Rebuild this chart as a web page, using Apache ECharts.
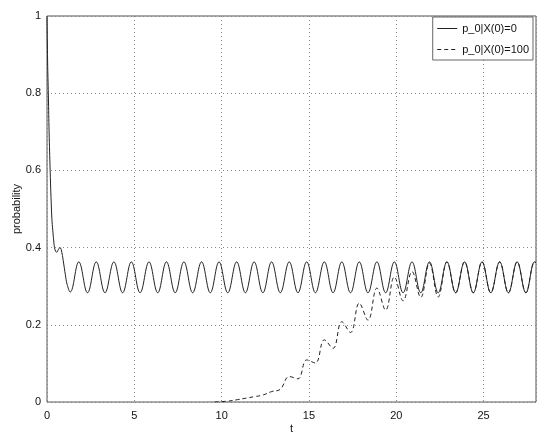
<!DOCTYPE html>
<html>
<head>
<meta charset="utf-8">
<script src="https://cdn.jsdelivr.net/npm/echarts@6/dist/echarts.min.js"></script>
<style>
html,body{margin:0;padding:0;background:#fff;}
#chart{width:550px;height:441px;}
</style>
</head>
<body>
<div id="chart"></div>
<script>
// ---- data ----
var seriesNames = ['p_0|X(0)=0', 'p_0|X(0)=100'];
var xTicks = [0, 5, 10, 15, 20, 25];
var yTicks = [0, 0.2, 0.4, 0.6, 0.8, 1];

// solid curve: p_0 given X(0)=0
var solidT = [0, 0.02, 0.04, 0.06, 0.08, 0.12, 0.18, 0.23, 0.28, 0.33, 0.38, 0.43, 0.5, 0.56, 0.65, 0.75, 0.85, 0.95, 1.05, 1.15, 1.33,
  1.82, 2.32, 2.82, 3.32, 3.83, 4.33, 4.83, 5.33, 5.84, 6.34, 6.84, 7.34, 7.84, 8.34, 8.85, 9.35, 9.85, 10.35,
  10.86, 11.36, 11.86, 12.36, 12.86, 13.36, 13.87, 14.37, 14.87, 15.37, 15.88, 16.38, 16.88, 17.38, 17.88, 18.38,
  18.89, 19.39, 19.89, 20.39, 20.9, 21.4, 21.9, 22.4, 22.9, 23.4, 23.91, 24.41, 24.91, 25.41, 25.92, 26.42,
  26.92, 27.42, 27.92, 28];
var solidP = [1, 0.93, 0.87, 0.83, 0.79, 0.70, 0.60, 0.53, 0.475, 0.445, 0.42, 0.40, 0.39, 0.388, 0.395, 0.40, 0.387, 0.36, 0.33, 0.305, 0.285,
  0.363, 0.283, 0.363, 0.283, 0.363, 0.283, 0.363, 0.283, 0.363, 0.283, 0.363, 0.283, 0.363, 0.283, 0.363, 0.283, 0.363, 0.283,
  0.363, 0.283, 0.363, 0.283, 0.363, 0.283, 0.363, 0.283, 0.363, 0.283, 0.363, 0.283, 0.363, 0.283, 0.363, 0.283,
  0.363, 0.283, 0.363, 0.283, 0.363, 0.283, 0.363, 0.283, 0.363, 0.283, 0.363, 0.283, 0.363, 0.283, 0.363, 0.283,
  0.363, 0.283, 0.363, 0.361];

// dashed curve: p_0 given X(0)=100
var dashedT = [9.6, 10.3, 10.9, 11.4, 11.9, 12.36, 12.86, 13.36, 13.87, 14.37, 14.87, 15.37, 15.88, 16.38, 16.88, 17.38,
  17.88, 18.38, 18.89, 19.39, 19.89, 20.39, 20.9, 21.4, 21.9, 22.4, 22.9, 23.4, 23.91, 24.41, 24.91, 25.41,
  25.92, 26.42, 26.92, 27.42, 27.92, 28];
var dashedP = [0, 0.002, 0.006, 0.010, 0.014, 0.018, 0.027, 0.033, 0.066, 0.060, 0.109, 0.101, 0.161, 0.139, 0.208, 0.180,
  0.256, 0.212, 0.295, 0.238, 0.324, 0.262, 0.338, 0.271, 0.360, 0.272, 0.363, 0.283, 0.363, 0.283, 0.363, 0.283,
  0.363, 0.283, 0.363, 0.283, 0.363, 0.361];

function zip(a, b) { return a.map(function (v, i) { return [v, b[i]]; }); }

var FONT = 'Liberation Sans, Arial, Helvetica, sans-serif';
var chart = echarts.init(document.getElementById('chart'), null, {renderer: 'canvas'});
chart.setOption({
  animation: false,
  backgroundColor: '#ffffff',
  grid: {left: 47, right: 14, top: 16, bottom: 39, show: true, borderColor: '#555', borderWidth: 1,
    backgroundColor: 'transparent', containLabel: false, outerBoundsMode: 'none'},
  legend: {
    orient: 'vertical', right: 17, top: 17,
    backgroundColor: '#fff', borderColor: '#666', borderWidth: 1,
    padding: [6, 4, 5, 4], itemGap: 10, itemWidth: 20, itemHeight: 12,
    itemStyle: {opacity: 0},
    lineStyle: {width: 1},
    textStyle: {fontFamily: FONT, fontSize: 11, color: '#111'},
    data: seriesNames
  },
  xAxis: {
    type: 'value', min: 0, max: 28, interval: 5,
    name: 't', nameLocation: 'middle', nameGap: 21, nameMoveOverlap: false,
    nameTextStyle: {fontFamily: FONT, fontSize: 11, color: '#111'},
    axisLine: {show: false}, axisTick: {show: false},
    axisLabel: {fontFamily: FONT, fontSize: 11, color: '#111', margin: 8, showMaxLabel: false,
      formatter: function (v) { return xTicks.indexOf(v) >= 0 ? String(v) : ''; }},
    splitLine: {show: true, lineStyle: {color: '#888', type: [1, 3], width: 1}}
  },
  yAxis: {
    type: 'value', min: 0, max: 1, interval: 0.2,
    name: 'probability', nameLocation: 'middle', nameGap: 25, nameMoveOverlap: false,
    nameTextStyle: {fontFamily: FONT, fontSize: 11, color: '#111'},
    axisLine: {show: false}, axisTick: {show: false},
    axisLabel: {fontFamily: FONT, fontSize: 11, color: '#111', margin: 6,
      formatter: function (v) {
        var r = Math.round(v * 10) / 10;
        for (var i = 0; i < yTicks.length; i++) { if (Math.abs(yTicks[i] - r) < 1e-9) return String(yTicks[i]); }
        return '';
      }},
    splitLine: {show: true, lineStyle: {color: '#888', type: [1, 3], width: 1}}
  },
  series: [
    {name: seriesNames[0], type: 'line', data: zip(solidT, solidP), symbol: 'none', smooth: 0.4,
      lineStyle: {color: '#222', width: 1, type: 'solid'}, itemStyle: {color: '#222'}},
    {name: seriesNames[1], type: 'line', data: zip(dashedT, dashedP), symbol: 'none', smooth: 0.4,
      lineStyle: {color: '#222', width: 1, type: [4, 3]}, itemStyle: {color: '#222'}}
  ]
});
</script>
</body>
</html>
